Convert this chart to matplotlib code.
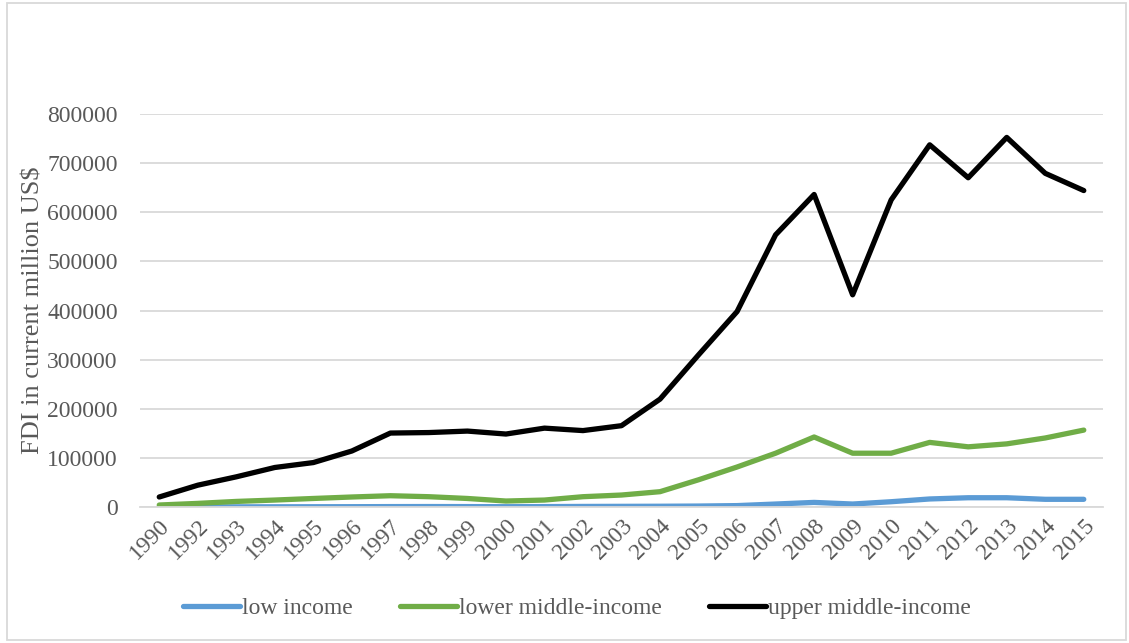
import matplotlib
matplotlib.use("Agg")
import matplotlib.pyplot as plt
from matplotlib.patches import Rectangle

years = ['1990', '1992', '1993', '1994', '1995', '1996', '1997', '1998', '1999',
         '2000', '2001', '2002', '2003', '2004', '2005', '2006', '2007', '2008',
         '2009', '2010', '2011', '2012', '2013', '2014', '2015']

low_income = [800, 900, 1000, 1100, 1200, 1300, 1500, 1600, 1500,
              1300, 1500, 1800, 2000, 2200, 2600, 3500, 6700, 10000,
              6700, 11400, 17000, 19500, 19500, 16300, 16300]

lower_middle = [4700, 8000, 12000, 14800, 18000, 21000, 23600, 21600, 18000,
                12800, 14800, 21600, 25000, 31800, 56000, 82000, 110000, 143000,
                110000, 110000, 132000, 123000, 129000, 141000, 157000]

upper_middle = [21000, 45000, 62000, 81000, 91000, 114500, 151000, 152000, 155000,
                149000, 161000, 156000, 166000, 220000, 310000, 398000, 554000, 636000,
                432000, 625000, 737000, 670000, 752000, 679000, 644000]

plt.rcParams['font.family'] = ['Liberation Serif', 'DejaVu Serif']
text_color = '#595959'
grid_color = '#D9D9D9'

fig = plt.figure(figsize=(11.29, 6.43), dpi=100)
ax = fig.add_axes([0.124, 0.211, 0.853, 0.612])

x = range(len(years))
ax.plot(x, low_income, color='#5B9BD5', lw=3.8, solid_capstyle='round', label='low income')
ax.plot(x, lower_middle, color='#70AD47', lw=3.8, solid_capstyle='round', label='lower middle-income')
ax.plot(x, upper_middle, color='#000000', lw=3.8, solid_capstyle='round', label='upper middle-income')

ax.set_xlim(-0.5, len(years) - 0.5)
ax.set_ylim(0, 800000)
ax.set_yticks(range(0, 800001, 100000))
ax.set_yticklabels([str(v) for v in range(0, 800001, 100000)])
ax.set_xticks(list(x))
ax.set_xticklabels(years, rotation=45, ha='right', va='top', rotation_mode='anchor')

ax.grid(axis='y', color=grid_color, lw=1.3)
ax.set_axisbelow(True)
for side in ['top', 'right', 'left']:
    ax.spines[side].set_visible(False)
ax.spines['bottom'].set_color(grid_color)
ax.spines['bottom'].set_linewidth(1.3)
ax.tick_params(axis='y', length=0, pad=16, labelsize=17, labelcolor=text_color)
ax.tick_params(axis='x', length=0, pad=6, labelsize=17, labelcolor=text_color)

ax.set_ylabel('FDI in current million US$', fontsize=19, color=text_color)
ax.yaxis.set_label_coords(-0.099, 0.5)

fig.legend(loc='center', bbox_to_anchor=(0.511, 1 - 608 / 643), ncol=3, frameon=False,
           fontsize=17, handlelength=2.4, handletextpad=0.1, columnspacing=2.0,
           labelcolor=text_color)

fig.patches.append(Rectangle((0.006, 0.005), 0.991, 0.99, transform=fig.transFigure,
                             fill=False, edgecolor=grid_color, lw=1.3))

fig.savefig('out.png', dpi=100)
